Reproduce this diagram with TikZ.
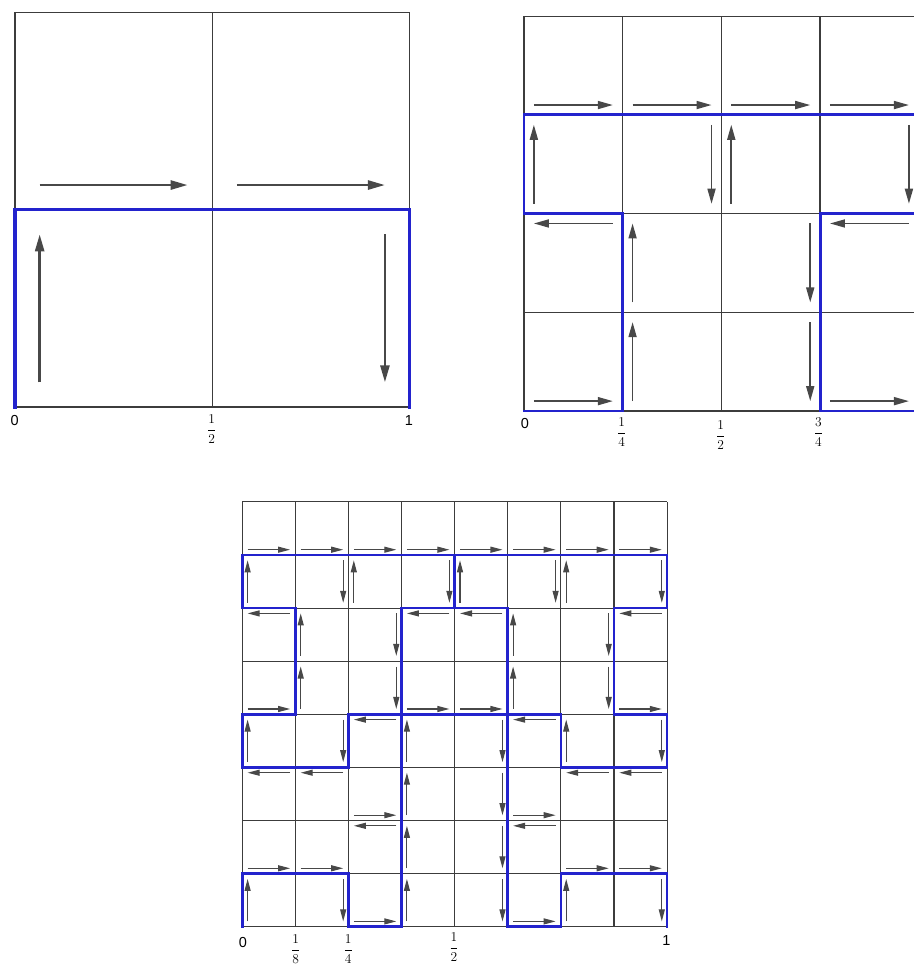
\documentclass[tikz,border=0pt]{standalone}
\usepackage{fontspec}
\usetikzlibrary{arrows.meta}
\newfontfamily\lsans{Liberation Sans}
\definecolor{pathblue}{RGB}{35,35,205}
\definecolor{gridgray}{RGB}{60,60,60}
\definecolor{arrgray}{RGB}{72,72,72}
\newcommand{\myR}[2]{\draw[arr] ({#1+\pa},{#2+\pd}) -- ({#1+1-\pa},{#2+\pd});}
\newcommand{\myL}[2]{\draw[arr] ({#1+1-\pa},{#2+1-\pd}) -- ({#1+\pa},{#2+1-\pd});}
\newcommand{\myU}[2]{\draw[arr] ({#1+\pd},{#2+\pa}) -- ({#1+\pd},{#2+1-\pa});}
\newcommand{\myD}[2]{\draw[arr] ({#1+1-\pd},{#2+1-\pa}) -- ({#1+1-\pd},{#2+\pa});}
\newcommand{\mygrid}[1]{\foreach \i in {0,...,#1} {\draw[gridline] (\i,0) -- (\i,#1); \draw[gridline] (0,\i) -- (#1,\i);}}
\newcommand{\sanslab}{\lsans\fontsize{14.5bp}{16bp}\selectfont}
\newcommand{\fraclab}[2]{\fontsize{13.5bp}{16bp}\selectfont$\displaystyle\frac{\mbox{#1}}{\mbox{#2}}$}
\begin{document}
\begin{tikzpicture}[x=1bp,y=-1bp,
  gridline/.style={draw=gridgray},
  bluepath/.style={draw=pathblue,line join=miter,line cap=rect},
  lab/.style={inner sep=0pt,anchor=center}]
\useasboundingbox (0,0) rectangle (914,965);

% ---------------- Panel 1 (2x2) ----------------
\begin{scope}[shift={(15,407)},x=197.3bp,y=197.3bp,line width=1.4bp,
  arr/.style={draw=arrgray,line width=2.6bp,-{Triangle[length=17bp,width=9bp]}}]
  \def\pa{0.125}\def\pd{0.125}
  \mygrid{2}
  \draw[bluepath,line width=3.3bp] (0,0) -- (0,1) -- (2,1) -- (2,0);
  \myR{0}{1}\myR{1}{1}
  \myU{0}{0}\myD{1}{0}
\end{scope}
\node[lab] (p1a) at (14.7,420.5) {\sanslab 0};
\node[lab] (p1b) at (211.7,429) {\fraclab{1}{2}};
\node[lab] (p1c) at (409,421) {\sanslab 1};

% ---------------- Panel 2 (4x4) ----------------
\begin{scope}[shift={(524,411)},x=98.7bp,y=98.7bp,line width=1.3bp,
  arr/.style={draw=arrgray,line width=1.7bp,-{Triangle[length=15bp,width=8bp]}}]
  \def\pa{0.1}\def\pd{0.1}
  \mygrid{4}
  \draw[bluepath,line width=2.8bp] (0,0) -- (1,0) -- (1,2) -- (0,2) -- (0,3) -- (4,3) -- (4,2) -- (3,2) -- (3,0) -- (4,0);
  \myR{0}{3}\myR{1}{3}\myR{2}{3}\myR{3}{3}
  \myU{0}{2}\myD{1}{2}\myU{2}{2}\myD{3}{2}
  \myL{0}{1}\myU{1}{1}\myD{2}{1}\myL{3}{1}
  \myR{0}{0}\myU{1}{0}\myD{2}{0}\myR{3}{0}
\end{scope}
\node[lab] (p2a) at (525,424) {\sanslab 0};
\node[lab] (p2b) at (621.7,432) {\fraclab{1}{4}};
\node[lab] (p2c) at (720.7,435) {\fraclab{1}{2}};
\node[lab] (p2d) at (818.3,432) {\fraclab{3}{4}};

% ---------------- Panel 3 (8x8) ----------------
\begin{scope}[shift={(242.3,926.7)},x=53.1bp,y=53.1bp,line width=1.1bp,
  arr/.style={draw=arrgray,line width=1.1bp,-{Triangle[length=12bp,width=6bp]}}]
  \def\pa{0.1}\def\pd{0.1}
  \mygrid{8}
  \draw[bluepath,line width=2.7bp] (0,0) -- (0,1) -- (2,1) -- (2,0) -- (3,0) -- (3,6) -- (5,6) -- (5,0) -- (6,0) -- (6,1) -- (8,1) -- (8,0);
  \draw[bluepath,line width=2.7bp] (0,3) -- (0,4) -- (1,4) -- (1,6) -- (0,6) -- (0,7) -- (8,7) -- (8,6) -- (7,6) -- (7,4) -- (8,4) -- (8,3) -- (6,3) -- (6,4) -- (2,4) -- (2,3) -- cycle;
  \draw[bluepath,line width=2.7bp] (4,7) -- (4,6);
  % row 7
  \myR{0}{7}\myR{1}{7}\myR{2}{7}\myR{3}{7}\myR{4}{7}\myR{5}{7}\myR{6}{7}\myR{7}{7}
  % row 6
  \myU{0}{6}\myD{1}{6}\myU{2}{6}\myD{3}{6}\myU{4}{6}\myD{5}{6}\myU{6}{6}\myD{7}{6}
  % row 5
  \myL{0}{5}\myU{1}{5}\myD{2}{5}\myL{3}{5}\myL{4}{5}\myU{5}{5}\myD{6}{5}\myL{7}{5}
  % row 4
  \myR{0}{4}\myU{1}{4}\myD{2}{4}\myR{3}{4}\myR{4}{4}\myU{5}{4}\myD{6}{4}\myR{7}{4}
  % row 3
  \myU{0}{3}\myD{1}{3}\myL{2}{3}\myU{3}{3}\myD{4}{3}\myL{5}{3}\myU{6}{3}\myD{7}{3}
  % row 2
  \myL{0}{2}\myL{1}{2}\myR{2}{2}\myU{3}{2}\myD{4}{2}\myR{5}{2}\myL{6}{2}\myL{7}{2}
  % row 1
  \myR{0}{1}\myR{1}{1}\myL{2}{1}\myU{3}{1}\myD{4}{1}\myL{5}{1}\myR{6}{1}\myR{7}{1}
  % row 0
  \myU{0}{0}\myD{1}{0}\myR{2}{0}\myU{3}{0}\myD{4}{0}\myR{5}{0}\myU{6}{0}\myD{7}{0}
\end{scope}
\node[lab] (p3a) at (243,942) {\sanslab 0};
\node[lab] (p3b) at (295.7,949) {\fraclab{1}{8}};
\node[lab] (p3c) at (348.3,949) {\fraclab{1}{4}};
\node[lab] (p3d) at (454,947) {\fraclab{1}{2}};
\node[lab] (p3e) at (666.5,940.5) {\sanslab 1};
\end{tikzpicture}
\end{document}
